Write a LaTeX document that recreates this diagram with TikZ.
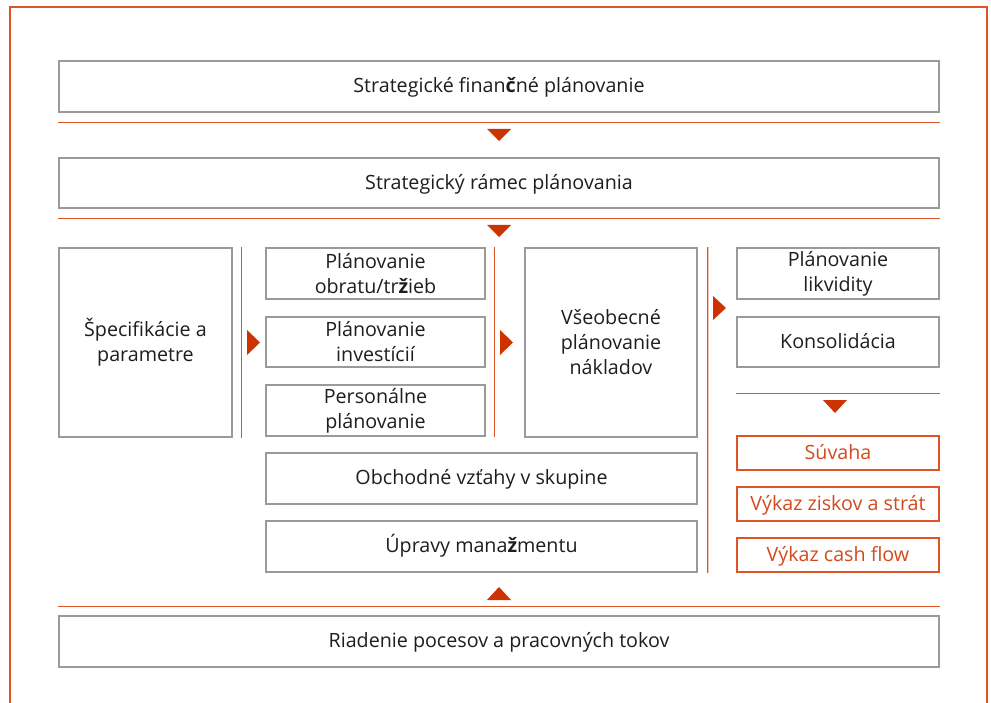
\documentclass[tikz,border=0pt]{standalone}
\usepackage{fontspec}
\setmainfont{Open Sans}
\usepackage{tikz}
\usetikzlibrary{calc}
\definecolor{frame}{HTML}{DD5526}
\definecolor{arrowred}{HTML}{CC3300}
\definecolor{boxgray}{HTML}{9A9A9A}
\definecolor{ink}{HTML}{1E1E1E}
\definecolor{otext}{HTML}{D24A1E}
\tikzset{
  box/.style={draw=boxgray, line width=0.9pt, fill=white, text=ink, align=center,
    inner sep=0pt, font=\fontsize{11.2}{14.2}\selectfont},
  oneline/.style={text height=0.72em, text depth=0pt},
  obox/.style={box, oneline, draw=frame, text=otext},
  sep/.style={draw=frame, line width=0.8pt},
  tri/.style={fill=arrowred},
}
\begin{document}
\begin{tikzpicture}
  \useasboundingbox (0,0) rectangle (19.82,-14.06);
  \draw[sep] (0.2,-14.06) -- (0.2,-0.14) -- (19.74,-0.14) -- (19.74,-14.06);

  \node[box, oneline, minimum width=17.6cm, minimum height=1.02cm] (strat) at (9.98,-1.73) {Strategické finan\textbf{č}né plánovanie};
  \node[box, oneline, minimum width=17.6cm, minimum height=1.0cm] (ramec) at (9.98,-3.66) {Strategický rámec plánovania};

  \node[box, minimum width=3.46cm, minimum height=3.78cm] (spec) at (2.91,-6.85) {Špecifikácie a\\parametre};
  \node[box, minimum width=4.38cm, minimum height=1.02cm] (obrat) at (7.51,-5.47) {Plánovanie\\obratu/tr\textbf{ž}ieb};
  \node[box, minimum width=4.38cm, minimum height=1.0cm] (invest) at (7.51,-6.84) {Plánovanie\\investícií};
  \node[box, minimum width=4.38cm, minimum height=1.02cm] (person) at (7.51,-8.21) {Personálne\\plánovanie};
  \node[box, minimum width=3.44cm, minimum height=3.78cm] (naklad) at (12.22,-6.85) {Všeobecné\\plánovanie\\nákladov};
  \node[box, oneline, minimum width=8.62cm, minimum height=1.02cm] (skupina) at (9.63,-9.57) {Obchodné vzťahy v skupine};
  \node[box, oneline, minimum width=8.62cm, minimum height=1.02cm] (uprava) at (9.63,-10.93) {Úpravy mana\textbf{ž}mentu};

  \node[box, minimum width=4.04cm, minimum height=1.02cm] (likv) at (16.76,-5.47) {Plánovanie\\likvidity};
  \node[box, oneline, minimum width=4.04cm, minimum height=1.0cm] (konso) at (16.76,-6.84) {Konsolidácia};
  \node[obox, minimum width=4.04cm, minimum height=0.68cm] (suvaha) at (16.76,-9.06) {Súvaha};
  \node[obox, minimum width=4.04cm, minimum height=0.68cm] (zisk) at (16.76,-10.08) {Výkaz ziskov a strát};
  \node[obox, minimum width=4.04cm, minimum height=0.68cm] (cash) at (16.76,-11.10) {Výkaz cash flow};

  \node[box, oneline, minimum width=17.6cm, minimum height=1.02cm] (riadenie) at (9.98,-12.83) {Riadenie pocesov a pracovných tokov};

  \draw[sep] ($(strat.south west)+(0,-0.2)$) -- ($(strat.south east)+(0,-0.2)$);
  \draw[sep] ($(ramec.south west)+(0,-0.2)$) -- ($(ramec.south east)+(0,-0.2)$);
  \draw[sep] ($(spec.north east)+(0.18,0)$) -- ($(spec.south east)+(0.18,0)$);
  \draw[sep] ($(obrat.north east)+(0.18,0)$) -- ($(person.south east)+(0.18,0)$);
  \draw[sep] ($(naklad.north east)+(0.2,0)$) -- ($(uprava.south east)+(0.2,0)$);
  \draw[sep] ($(konso.south west)+(0,-0.52)$) -- ($(konso.south east)+(0,-0.52)$);
  \draw[sep] ($(riadenie.north west)+(0,0.18)$) -- ($(riadenie.north east)+(0,0.18)$);

  \fill[tri] (9.74,-2.58) -- ++(0.48,0) -- ++(-0.24,-0.24) -- cycle;
  \fill[tri] (9.74,-4.50) -- ++(0.48,0) -- ++(-0.24,-0.24) -- cycle;
  \fill[tri] (4.94,-6.60) -- ++(0,-0.5) -- ++(0.26,0.25) -- cycle;
  \fill[tri] (10.00,-6.60) -- ++(0,-0.5) -- ++(0.26,0.25) -- cycle;
  \fill[tri] (14.26,-5.92) -- ++(0,-0.48) -- ++(0.26,0.24) -- cycle;
  \fill[tri] (16.46,-8.00) -- ++(0.48,0) -- ++(-0.24,-0.26) -- cycle;
  \fill[tri] (9.74,-12.00) -- ++(0.48,0) -- ++(-0.24,0.26) -- cycle;
\end{tikzpicture}
\end{document}
